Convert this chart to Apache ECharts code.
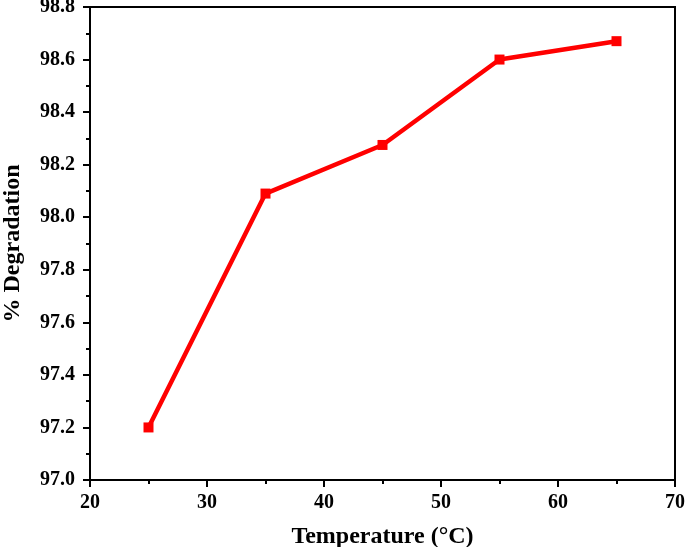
<!DOCTYPE html>
<html><head><meta charset="utf-8">
<script src="https://cdn.jsdelivr.net/npm/echarts@6/dist/echarts.min.js"></script>
<style>html,body{margin:0;padding:0;background:#fff}#c{width:685px;height:547px}</style>
</head><body><div id="c"></div>
<script>
const temperatures = [25, 35, 45, 55, 65];
const degradation = [97.2, 98.09, 98.275, 98.6, 98.67];
const xTitle = 'Temperature (°C)';
const yTitle = '% Degradation';

const font = 'Liberation Serif';
const chart = echarts.init(document.getElementById('c'));
chart.setOption({
  animation: false,
  grid: {left: 90, right: 10, top: 7, bottom: 67, show: true, borderColor: '#000', borderWidth: 2,
    containLabel: false, outerBoundsMode: 'none'},
  xAxis: {
    type: 'value', min: 20, max: 70, interval: 10,
    name: xTitle, nameLocation: 'middle', nameGap: 45,
    nameTextStyle: {fontFamily: font, fontWeight: 'bold', fontSize: 24, color: '#000'},
    axisLine: {show: true, lineStyle: {color: '#000', width: 2}},
    axisTick: {show: true, inside: false, length: 7, lineStyle: {color: '#000', width: 2}},
    minorTick: {show: true, splitNumber: 2, length: 4, lineStyle: {color: '#000', width: 2}},
    splitLine: {show: false},
    axisLabel: {fontFamily: font, fontWeight: 'bold', fontSize: 20, color: '#000', margin: 13}
  },
  yAxis: {
    type: 'value', min: 97.0, max: 98.8, interval: 0.2,
    name: yTitle, nameLocation: 'middle', nameGap: 65,
    nameTextStyle: {fontFamily: font, fontWeight: 'bold', fontSize: 24, color: '#000'},
    axisLine: {show: true, lineStyle: {color: '#000', width: 2}},
    axisTick: {show: true, inside: false, length: 7, lineStyle: {color: '#000', width: 2}},
    minorTick: {show: true, splitNumber: 2, length: 4, lineStyle: {color: '#000', width: 2}},
    splitLine: {show: false},
    axisLabel: {fontFamily: font, fontWeight: 'bold', fontSize: 20, color: '#000', margin: 15,
      formatter: v => v.toFixed(1)}
  },
  series: [{
    type: 'line',
    data: temperatures.map((t, i) => [t, degradation[i]]),
    symbol: 'rect', symbolSize: 10,
    lineStyle: {color: '#ff0000', width: 4.5},
    itemStyle: {color: '#ff0000'}
  }]
});
</script></body></html>
